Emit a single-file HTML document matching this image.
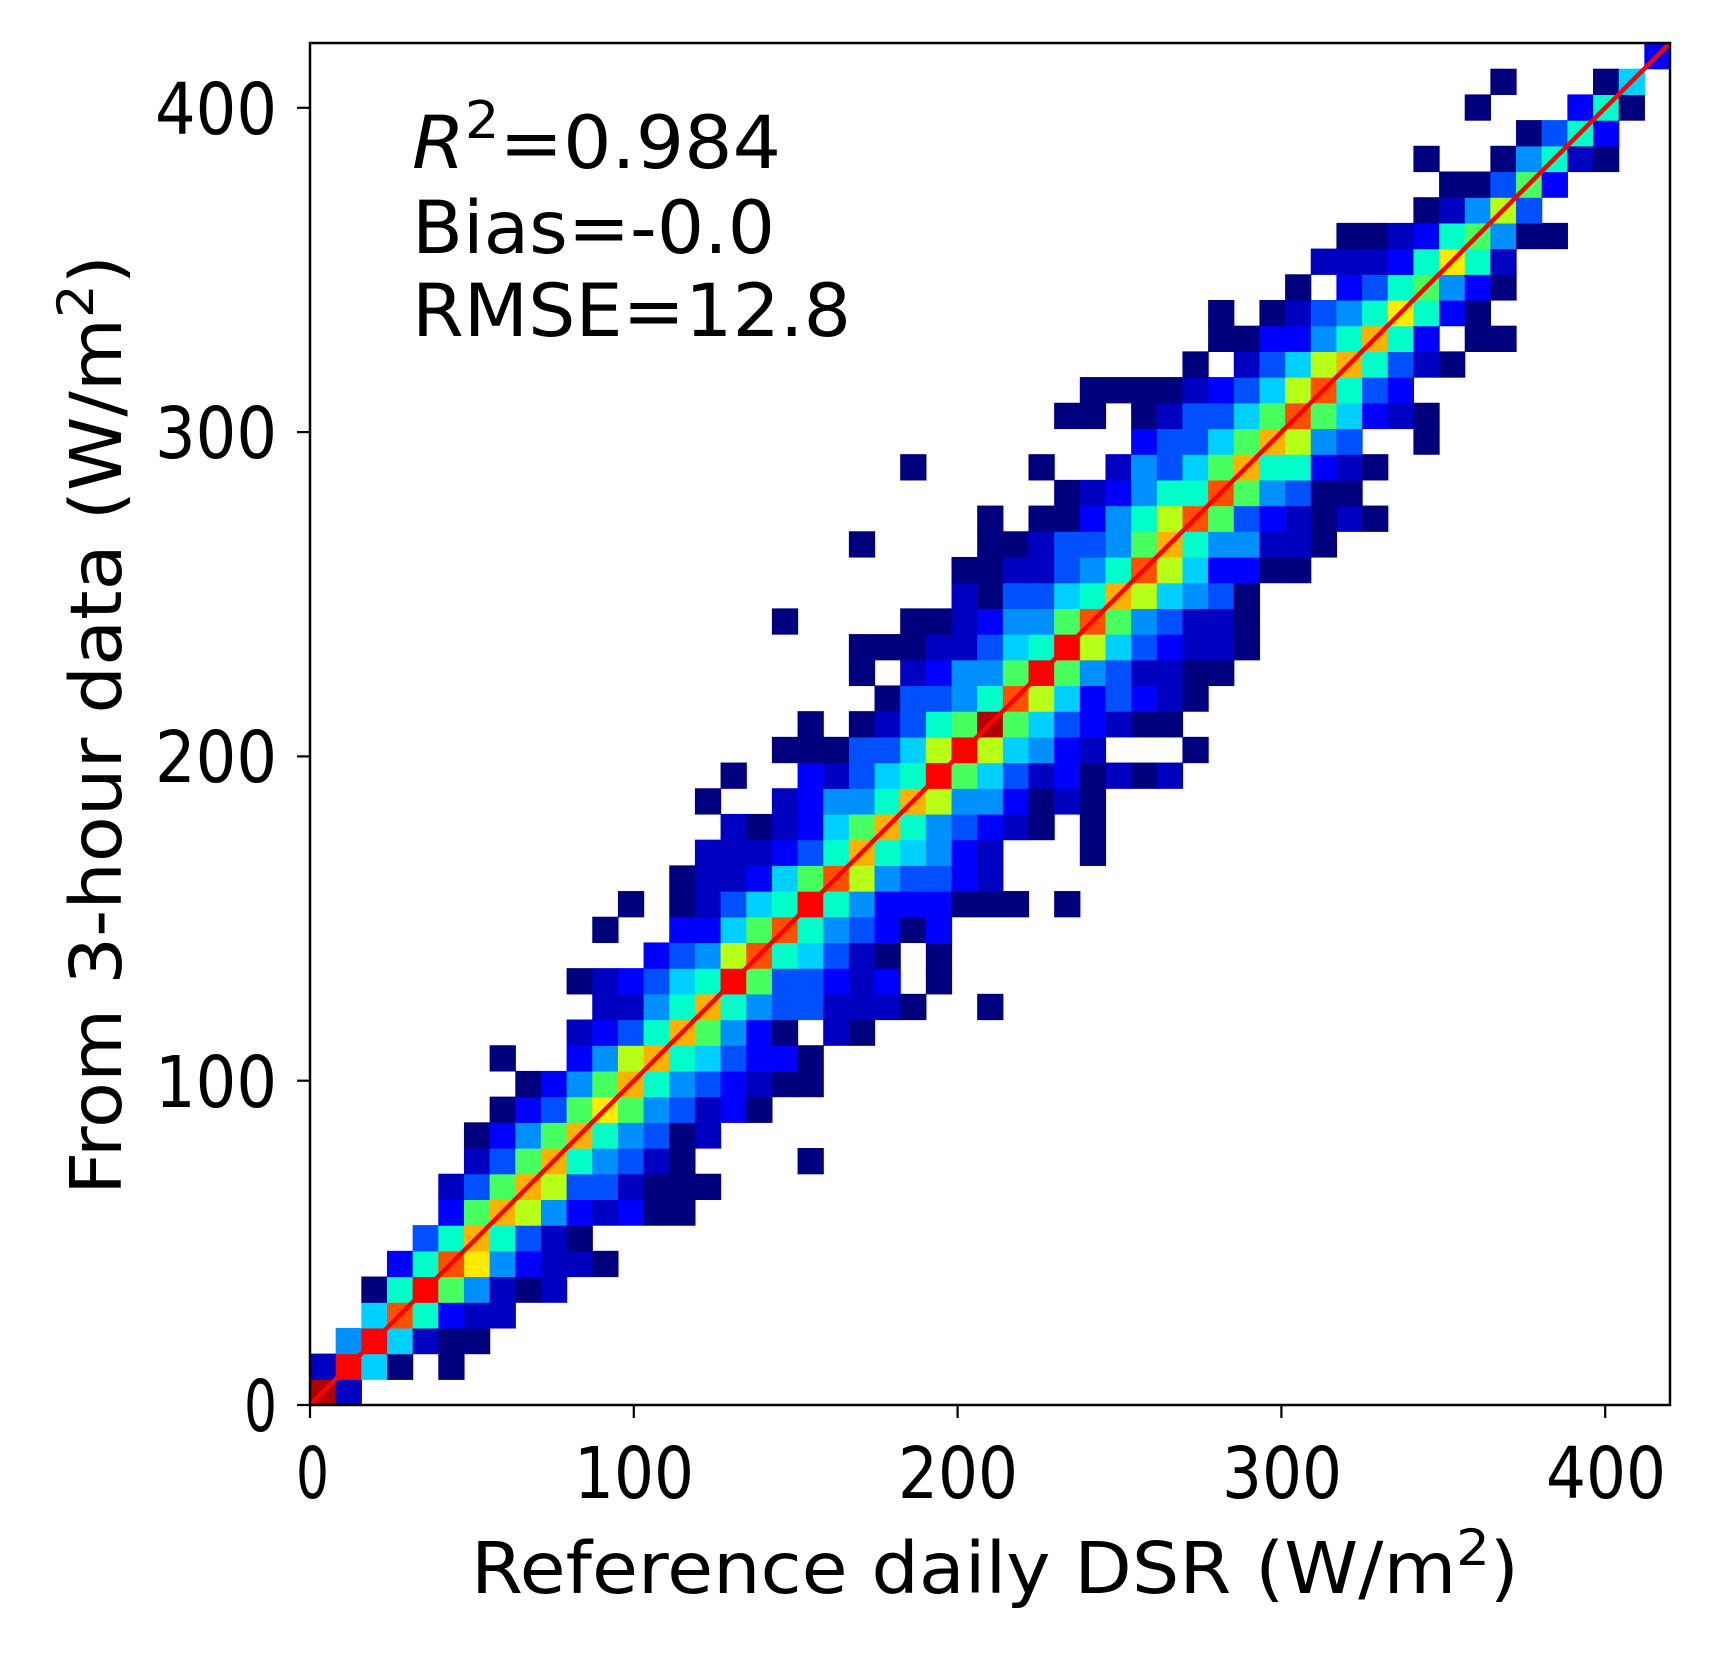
<!DOCTYPE html>
<html><head><meta charset="utf-8"><style>
html,body{margin:0;padding:0;background:#fff;}
svg{display:block;}
text{font-family:"DejaVu Sans","Liberation Sans",sans-serif;fill:#000;}
</style></head><body>
<svg id="s" width="1728" height="1656" viewBox="0 0 1728 1656" xmlns="http://www.w3.org/2000/svg">
<rect width="1728" height="1656" fill="#fff"/>
<g id="cells"></g>
<line x1="310" y1="1405" x2="1670" y2="43" stroke="#ff0000" stroke-width="4.5"/>
<rect x="310" y="43" width="1360" height="1362" fill="none" stroke="#000" stroke-width="2.5"/>
<g stroke="#000" stroke-width="2.2">
<line x1="310" y1="1405" x2="310" y2="1418"/>
<line x1="633.8" y1="1405" x2="633.8" y2="1418"/>
<line x1="957.6" y1="1405" x2="957.6" y2="1418"/>
<line x1="1281.4" y1="1405" x2="1281.4" y2="1418"/>
<line x1="1605.2" y1="1405" x2="1605.2" y2="1418"/>
<line x1="297" y1="1405" x2="310" y2="1405"/>
<line x1="297" y1="1080.7" x2="310" y2="1080.7"/>
<line x1="297" y1="756.4" x2="310" y2="756.4"/>
<line x1="297" y1="432.1" x2="310" y2="432.1"/>
<line x1="297" y1="107.8" x2="310" y2="107.8"/>
</g>
<g font-size="71">
<text x="277" y="1431" text-anchor="end" textLength="33" lengthAdjust="spacingAndGlyphs">0</text>
<text x="277" y="1107" text-anchor="end" textLength="122" lengthAdjust="spacingAndGlyphs">100</text>
<text x="277" y="782" text-anchor="end" textLength="122" lengthAdjust="spacingAndGlyphs">200</text>
<text x="277" y="458" text-anchor="end" textLength="122" lengthAdjust="spacingAndGlyphs">300</text>
<text x="277" y="134" text-anchor="end" textLength="122" lengthAdjust="spacingAndGlyphs">400</text>
<text x="296" y="1498" textLength="33" lengthAdjust="spacingAndGlyphs">0</text>
<text x="574" y="1498" textLength="120" lengthAdjust="spacingAndGlyphs">100</text>
<text x="898" y="1498" textLength="120" lengthAdjust="spacingAndGlyphs">200</text>
<text x="1222" y="1498" textLength="120" lengthAdjust="spacingAndGlyphs">300</text>
<text x="1546" y="1498" textLength="120" lengthAdjust="spacingAndGlyphs">400</text>
</g>
<text x="471" y="1593" font-size="71" textLength="1048" lengthAdjust="spacingAndGlyphs">Reference daily DSR (W/m<tspan font-size="50" dy="-28">2</tspan><tspan dy="28">)</tspan></text>
<text transform="translate(121,1195) rotate(-90)" font-size="71" textLength="940" lengthAdjust="spacingAndGlyphs">From 3-hour data (W/m<tspan font-size="50" dy="-28">2</tspan><tspan dy="28">)</tspan></text>
<g font-size="73">
<text x="412" y="168" textLength="369" lengthAdjust="spacingAndGlyphs"><tspan font-style="italic">R</tspan><tspan font-size="52" dy="-30">2</tspan><tspan dy="30">=0.984</tspan></text>
<text x="412" y="253" textLength="363" lengthAdjust="spacingAndGlyphs">Bias=-0.0</text>
<text x="412" y="336" textLength="439" lengthAdjust="spacingAndGlyphs">RMSE=12.8</text>
</g>
</svg>
<script>
var C={'1':'#00007f','2':'#0000c0','3':'#0000ff','4':'#0050ff','5':'#0090ff','6':'#00d0ff','7':'#00ffc8','8':'#48ff60','9':'#b8ff18','a':'#ffea00','b':'#ffb000','c':'#ff5000','d':'#ff0000','e':'#b00000'};
var R=[
"0:e,1:2",
"0:2,1:d,2:6,3:1,5:1",
"1:5,2:d,3:6,4:2,5:1,6:1",
"2:6,3:c,4:7,5:3,6:2,7:2",
"2:1,3:7,4:d,5:8,6:5,7:2,8:1,9:2",
"3:3,4:7,5:c,6:a,7:5,8:3,9:2,10:2,11:1",
"4:4,5:7,6:b,7:7,8:4,9:2,10:1",
"5:3,6:8,7:b,8:9,9:5,10:3,11:2,12:3,13:1,14:1",
"5:2,6:4,7:8,8:b,9:9,10:4,11:4,12:2,13:1,14:1,15:1",
"6:2,7:4,8:8,9:b,10:7,11:5,12:4,13:2,14:1,19:1",
"6:1,7:3,8:5,9:8,10:b,11:7,12:5,13:4,14:1,15:2",
"7:1,8:3,9:4,10:8,11:a,12:8,13:5,14:4,15:2,16:3,17:1",
"8:1,9:3,10:5,11:8,12:b,13:7,14:5,15:4,16:3,17:2,18:1,19:1",
"7:1,10:3,11:5,12:9,13:b,14:7,15:6,16:4,17:3,18:3,19:1",
"10:2,11:3,12:4,13:7,14:b,15:8,16:5,17:3,18:1,20:2,21:1",
"11:2,12:2,13:5,14:7,15:b,16:7,17:5,18:4,19:4,20:2,21:2,22:2,23:1,26:1",
"10:1,11:2,12:3,13:4,14:6,15:7,16:d,17:8,18:4,19:4,20:3,21:2,22:3,24:1",
"13:3,14:4,15:5,16:9,17:c,18:7,19:6,20:4,21:2,22:1,24:1",
"11:1,14:3,15:3,16:6,17:8,18:c,19:7,20:5,21:4,22:3,23:1,24:3",
"12:1,14:1,15:2,16:4,17:6,18:7,19:d,20:7,21:5,22:3,23:3,24:3,25:1,26:1,27:1,29:1",
"14:1,15:2,16:2,17:3,18:6,19:8,20:c,21:9,22:5,23:4,24:4,25:3,26:2",
"15:2,16:2,17:2,18:3,19:4,20:7,21:b,22:7,23:6,24:5,25:3,26:2,30:1",
"16:2,17:1,18:2,19:3,20:6,21:8,22:b,23:7,24:5,25:4,26:3,27:2,28:1,30:1",
"15:1,18:2,19:3,20:5,21:5,22:7,23:b,24:9,25:5,26:5,27:3,28:1,29:2,30:1",
"16:1,19:3,20:2,21:4,22:6,23:7,24:d,25:8,26:6,27:4,28:2,29:3,30:1,31:2,32:1,33:2",
"18:1,19:1,20:1,21:4,22:4,23:6,24:9,25:d,26:9,27:6,28:5,29:3,30:2,34:1",
"19:1,21:1,22:2,23:4,24:7,25:8,26:e,27:8,28:6,29:4,30:3,31:2,32:1,33:1",
"22:1,23:4,24:4,25:5,26:7,27:c,28:9,29:6,30:3,31:4,32:3,33:2,34:1",
"21:1,23:2,24:3,25:5,26:5,27:8,28:d,29:8,30:5,31:4,32:2,33:2,34:1,35:1",
"21:1,22:1,23:1,24:2,25:2,26:4,27:6,28:7,29:d,30:9,31:6,32:4,33:3,34:2,35:2,36:1",
"18:1,23:1,24:1,25:2,26:3,27:5,28:5,29:8,30:c,31:8,32:5,33:4,34:2,35:2,36:1",
"25:2,26:1,27:4,28:4,29:6,30:7,31:b,32:9,33:6,34:5,35:4,36:1",
"25:1,26:1,27:2,28:2,29:4,30:5,31:7,32:c,33:9,34:6,35:3,36:3,37:1,38:1",
"21:1,26:1,27:1,28:2,29:4,30:4,31:5,32:8,33:b,34:7,35:5,36:5,37:2,38:2,39:1",
"26:1,28:1,29:1,30:3,31:5,32:7,33:9,34:c,35:8,36:4,37:3,38:2,39:1,40:2,41:1",
"29:1,30:2,31:3,32:5,33:7,34:7,35:c,36:8,37:5,38:4,39:1,40:1",
"23:1,28:1,31:2,32:5,33:4,34:6,35:8,36:b,37:7,38:7,39:3,40:2,41:1",
"32:3,33:4,34:4,35:6,36:8,37:b,38:9,39:5,40:4,43:1",
"29:1,30:1,32:1,33:2,34:4,35:4,36:6,37:8,38:c,39:8,40:6,41:3,42:2,43:1",
"30:1,31:1,32:1,33:1,34:2,35:3,36:4,37:6,38:9,39:c,40:7,41:4,42:3",
"34:1,36:2,37:4,38:6,39:9,40:b,41:7,42:4,43:2,44:1",
"35:1,36:1,37:3,38:3,39:5,40:7,41:b,42:7,43:3,45:1,46:1",
"35:1,37:1,38:2,39:4,40:5,41:7,42:a,43:7,44:3,45:1",
"38:1,40:3,41:4,42:7,43:8,44:5,45:3,46:1",
"39:2,40:2,41:2,42:3,43:7,44:a,45:7,46:2",
"40:1,41:1,42:2,43:3,44:7,45:8,46:5,47:1,48:1",
"43:1,44:2,45:5,46:9,47:4",
"44:1,45:1,46:4,47:8,48:3",
"43:1,46:1,47:5,48:7,49:2,50:1",
"47:1,48:4,49:7,50:3",
"45:1,49:3,50:7,51:1",
"46:1,50:1,51:6",
"52:3"
];
var g=document.getElementById('cells'),ns='http://www.w3.org/2000/svg',cw=1360/53,ch=1362/53;
R.forEach(function(row,r){row.split(',').forEach(function(p){var q=p.split(':'),c=+q[0];
var e=document.createElementNS(ns,'rect');
e.setAttribute('x',(310+c*cw).toFixed(2));e.setAttribute('y',(1405-(r+1)*ch).toFixed(2));
e.setAttribute('width',(cw+0.6).toFixed(2));e.setAttribute('height',(ch+0.6).toFixed(2));
e.setAttribute('fill',C[q[1]]);g.appendChild(e);});});
</script>
</body></html>
